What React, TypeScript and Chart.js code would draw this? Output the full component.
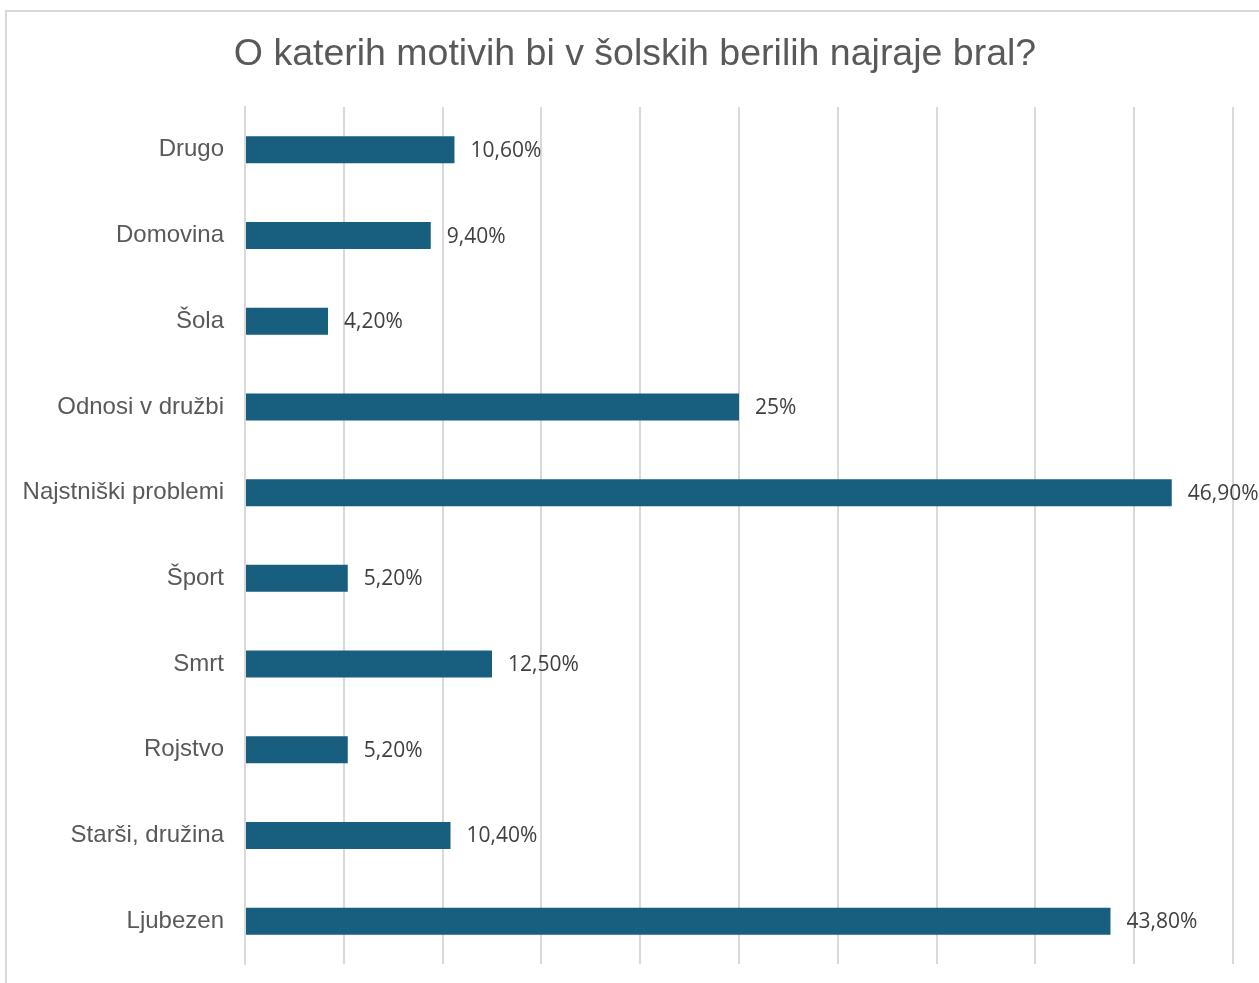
import React, { useEffect, useRef } from "react";
import { Chart, registerables } from "chart.js";

Chart.register(...registerables);

const TITLE = "O katerih motivih bi v šolskih berilih najraje bral?";
const categories = [
  "Drugo",
  "Domovina",
  "Šola",
  "Odnosi v družbi",
  "Najstniški problemi",
  "Šport",
  "Smrt",
  "Rojstvo",
  "Starši, družina",
  "Ljubezen",
];
const values = [10.6, 9.4, 4.2, 25, 46.9, 5.2, 12.5, 5.2, 10.4, 43.8];
const valueLabels = ["10,60%", "9,40%", "4,20%", "25%", "46,90%", "5,20%", "12,50%", "5,20%", "10,40%", "43,80%"];
const axisMin = 0;
const axisMax = 50;
const axisStep = 5;

const BAR_COLOR = "#175E7F";
const GRID_COLOR = "#d9d9d9";

const dataLabelPlugin = {
  id: "dataLabels",
  afterDatasetsDraw(chart: any) {
    const ctx = chart.ctx;
    const meta = chart.getDatasetMeta(0);
    ctx.save();
    ctx.font = '21px "Open Sans", sans-serif';
    ctx.fillStyle = "#404040";
    ctx.textAlign = "left";
    ctx.textBaseline = "middle";
    meta.data.forEach((bar: any, i: number) => {
      ctx.fillText(valueLabels[i], bar.x + 16, bar.y + 1);
    });
    ctx.restore();
  },
};

export default function App() {
  const ref = useRef<HTMLCanvasElement | null>(null);

  useEffect(() => {
    if (!ref.current) return;
    const chart = new Chart(ref.current, {
      type: "bar",
      data: {
        labels: categories,
        datasets: [
          {
            data: values,
            backgroundColor: BAR_COLOR,
            borderWidth: 0,
            barPercentage: 0.315,
            categoryPercentage: 1,
          },
        ],
      },
      options: {
        indexAxis: "y",
        animation: false,
        responsive: false,
        maintainAspectRatio: false,
        devicePixelRatio: 1,
        layout: { autoPadding: false, padding: { left: 0, right: 0, top: 0, bottom: 19 } },
        plugins: {
          legend: { display: false },
          tooltip: { enabled: false },
          title: {
            display: true,
            text: TITLE,
            color: "#595959",
            font: { family: '"Liberation Sans", Arial, sans-serif', size: 37.5, weight: "normal" },
            padding: { top: 32, bottom: 30 },
          },
        },
        scales: {
          x: {
            min: axisMin,
            max: axisMax,
            afterFit: (scale: any) => {
              scale.height = 0;
              scale.paddingLeft = 0;
              scale.paddingRight = 0;
            },
            ticks: { display: false, stepSize: axisStep },
            grid: { color: GRID_COLOR, lineWidth: 2, drawTicks: false },
            border: { display: false },
          },
          y: {
            afterFit: (scale: any) => {
              scale.width = 245;
              scale.paddingTop = 0;
              scale.paddingBottom = 0;
            },
            ticks: {
              color: "#595959",
              font: { family: '"Liberation Sans", Arial, sans-serif', size: 24 },
              padding: 21,
            },
            grid: { display: false, drawTicks: false },
            border: { display: true, color: GRID_COLOR, width: 2 },
          },
          yRight: {
            type: "category",
            position: "right",
            display: true,
            afterFit: (scale: any) => {
              scale.width = 37;
              scale.paddingTop = 0;
              scale.paddingBottom = 0;
            },
            ticks: { display: false },
            grid: { display: false, drawTicks: false },
            border: { display: false },
          },
        },
      },
      plugins: [dataLabelPlugin],
    });
    return () => chart.destroy();
  }, []);

  return (
    <div style={{ position: "absolute", left: 0, top: 0, width: 1259, height: 983, overflow: "hidden", background: "#fff" }}>
      <div
        style={{
          position: "absolute",
          left: 5,
          top: 10,
          width: 1400,
          height: 1100,
          border: "2px solid #d9d9d9",
          boxSizing: "border-box",
        }}
      />
      <canvas ref={ref} width={1270} height={983} style={{ position: "absolute", left: 0, top: 0, width: 1270, height: 983 }} />
    </div>
  );
}
